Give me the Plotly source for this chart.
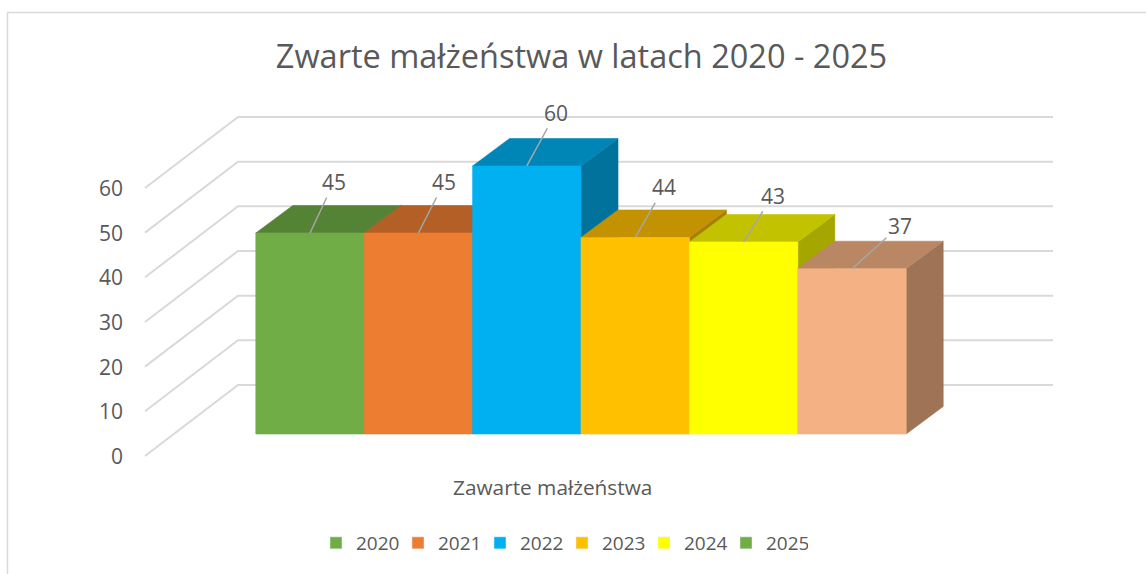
import plotly.graph_objects as go

# ---------------- data ----------------
years = ["2020", "2021", "2022", "2023", "2024", "2025"]
values = [45, 45, 60, 44, 43, 37]
category_label = "Zawarte małżeństwa"
title_text = "Zwarte małżeństwa w latach 2020 - 2025"
tick_values = [0, 10, 20, 30, 40, 50, 60]

# ---------------- style ----------------
front_colors = ["#70AD47", "#ED7D31", "#00B0F0", "#FFC000", "#FFFF00", "#F4B183"]
legend_colors = ["#70AD47", "#ED7D31", "#00B0F0", "#FFC000", "#FFFF00", "#70AD47"]
label_ax = [24, 26, 29, 29, 29, 48]
label_ay = [-51, -51, -53, -50, -46, -43]

W, H = 1146, 574
ORIGIN_X, ORIGIN_Y = 310.0, 434.0      # pixel of category 0 centre / value 0 (bar front)
CAT_PX, VAL_PX = 108.4, 4.467          # pixels per category / per value unit
FONT = "Open Sans"
TXT = "#595959"
GRID = "#D9D9D9"


def sx(px):  # pixel distance -> category units
    return px / CAT_PX


def sy(px):  # pixel distance -> value units
    return px / VAL_PX


BAR_DX, BAR_DY = sx(37), sy(27.5)
WALL_FRONT_X = sx(145 - ORIGIN_X)
WALL_DX = sx(93)
WALL_FRONT_DY = -sy(22)
WALL_BACK_DY = sy(49)
BACK_RIGHT_X = sx(1053 - ORIGIN_X)


def shade(hexcol, f):
    h = hexcol.lstrip("#")
    r, g, b = (int(h[i:i + 2], 16) for i in (0, 2, 4))
    return "rgb(%d,%d,%d)" % (round(r * f), round(g * f), round(b * f))


fig = go.Figure()

# grid lines: left wall diagonals + back wall horizontals
gx, gy = [], []
for v in tick_values:
    gx += [WALL_FRONT_X, WALL_FRONT_X + WALL_DX, BACK_RIGHT_X, None]
    gy += [v + WALL_FRONT_DY, v + WALL_BACK_DY, v + WALL_BACK_DY, None]
fig.add_trace(go.Scatter(x=gx, y=gy, mode="lines", line=dict(color=GRID, width=2),
                         hoverinfo="skip", showlegend=False))


def face(xs, ys, color, name):
    fig.add_trace(go.Scatter(x=xs + [xs[0]], y=ys + [ys[0]], mode="lines", fill="toself",
                             fillcolor=color, line=dict(color=color, width=0.6),
                             hoverinfo="skip", showlegend=False, name=name))


for i, (yr, v, c) in enumerate(zip(years, values, front_colors)):
    l, r = i - 0.5, i + 0.5
    # right side face
    face([r, r, r + BAR_DX, r + BAR_DX], [0, v, v + BAR_DY, BAR_DY], shade(c, 0.65), yr)
    # top face
    face([l, r, r + BAR_DX, l + BAR_DX], [v, v, v + BAR_DY, v + BAR_DY], shade(c, 0.76), yr)
    # front face
    face([l, r, r, l], [0, 0, v, v], c, yr)

# legend entries
for yr, c in zip(years, legend_colors):
    fig.add_trace(go.Bar(x=[None], y=[None], name=yr, marker_color=c, showlegend=True))

annotations = []
# value axis labels
for v in tick_values:
    annotations.append(dict(x=WALL_FRONT_X - sx(20), y=v + WALL_FRONT_DY, text=str(v),
                            showarrow=False, xanchor="right", yanchor="middle",
                            font=dict(family=FONT, size=21, color=TXT)))
# data labels with leader lines
for i, v in enumerate(values):
    annotations.append(dict(x=i, y=v, text=str(v), showarrow=True, arrowhead=0,
                            arrowwidth=1.5, arrowcolor="#A6A6A6", standoff=0,
                            ax=label_ax[i], ay=label_ay[i],
                            font=dict(family=FONT, size=21, color=TXT)))
# category label
annotations.append(dict(x=(len(years) - 1) / 2 + sx(-29), y=sy(-53), text=category_label,
                        showarrow=False, xanchor="center", yanchor="middle",
                        font=dict(family=FONT, size=20.8, color=TXT)))

fig.update_layout(
    width=W, height=H,
    margin=dict(l=0, r=0, t=0, b=0),
    paper_bgcolor="white", plot_bgcolor="white",
    xaxis=dict(range=[sx(-ORIGIN_X), sx(W - ORIGIN_X)], visible=False, fixedrange=True),
    yaxis=dict(range=[sy(ORIGIN_Y - H), sy(ORIGIN_Y)], visible=False, fixedrange=True),
    title=dict(text=title_text, x=581.5 / W, y=1 - 57 / H, xanchor="center", yanchor="middle",
               xref="paper", yref="paper",
               font=dict(family=FONT, size=32.5, color=TXT)),
    showlegend=True,
    legend=dict(orientation="h", x=562 / W, y=1 - 543 / H, xanchor="center", yanchor="middle",
                font=dict(family=FONT, size=19, color=TXT), entrywidth=37,
                bgcolor="rgba(0,0,0,0)"),
    annotations=annotations,
    shapes=[dict(type="rect", xref="paper", yref="paper", x0=7.5 / W, x1=1.05,
                 y0=-0.1, y1=1 - 12.5 / H, line=dict(color=GRID, width=1.5),
                 fillcolor="rgba(0,0,0,0)", layer="below")],
    bargap=0,
)

fig.write_html("out.html", config={"displayModeBar": False},
               post_script="document.body.style.margin='0px';")
